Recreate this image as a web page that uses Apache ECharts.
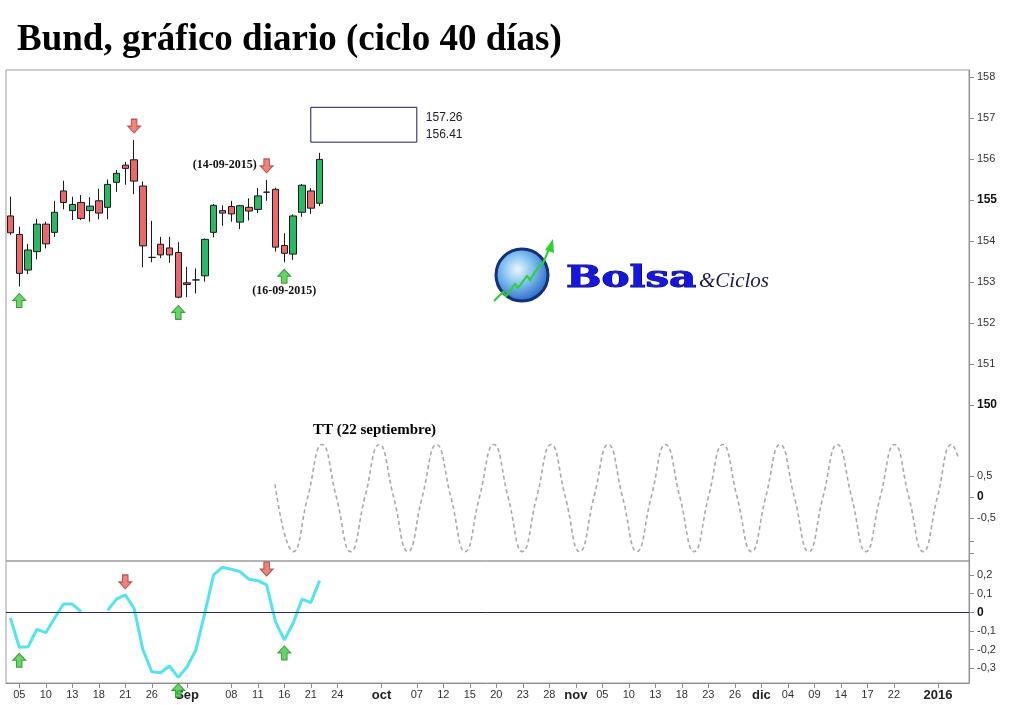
<!DOCTYPE html>
<html>
<head>
<meta charset="utf-8">
<script src="https://cdn.jsdelivr.net/npm/echarts@6.0.0/dist/echarts.min.js"></script>
<style>
html,body{margin:0;padding:0;background:#fff;}
#c{width:1024px;height:705px;}
</style>
</head>
<body>
<div id="c"></div>
<script>
// ---- categories: trading days (Eurex) ----
const dates = [
 '2015-08-04','2015-08-05','2015-08-06','2015-08-07',
 '2015-08-10','2015-08-11','2015-08-12','2015-08-13','2015-08-14',
 '2015-08-17','2015-08-18','2015-08-19','2015-08-20','2015-08-21',
 '2015-08-24','2015-08-25','2015-08-26','2015-08-27','2015-08-28',
 '2015-08-31','2015-09-01','2015-09-02','2015-09-03','2015-09-04',
 '2015-09-07','2015-09-08','2015-09-09','2015-09-10','2015-09-11',
 '2015-09-14','2015-09-15','2015-09-16','2015-09-17','2015-09-18',
 '2015-09-21','2015-09-22','2015-09-23','2015-09-24','2015-09-25',
 '2015-09-28','2015-09-29','2015-09-30','2015-10-01','2015-10-02',
 '2015-10-05','2015-10-06','2015-10-07','2015-10-08','2015-10-09',
 '2015-10-12','2015-10-13','2015-10-14','2015-10-15','2015-10-16',
 '2015-10-19','2015-10-20','2015-10-21','2015-10-22','2015-10-23',
 '2015-10-26','2015-10-27','2015-10-28','2015-10-29','2015-10-30',
 '2015-11-02','2015-11-03','2015-11-04','2015-11-05','2015-11-06',
 '2015-11-09','2015-11-10','2015-11-11','2015-11-12','2015-11-13',
 '2015-11-16','2015-11-17','2015-11-18','2015-11-19','2015-11-20',
 '2015-11-23','2015-11-24','2015-11-25','2015-11-26','2015-11-27',
 '2015-11-30','2015-12-01','2015-12-02','2015-12-03','2015-12-04',
 '2015-12-07','2015-12-08','2015-12-09','2015-12-10','2015-12-11',
 '2015-12-14','2015-12-15','2015-12-16','2015-12-17','2015-12-18',
 '2015-12-21','2015-12-22','2015-12-23','2015-12-28','2015-12-29',
 '2015-12-30','2016-01-04','2016-01-05','2016-01-06','2016-01-07'
];

// ---- x tick labels ----
const xTickLabels = [
 ['2015-08-05','05'],['2015-08-10','10'],['2015-08-13','13'],['2015-08-18','18'],
 ['2015-08-21','21'],['2015-08-26','26'],['2015-09-01','Sep'],['2015-09-08','08'],
 ['2015-09-11','11'],['2015-09-16','16'],['2015-09-21','21'],['2015-09-24','24'],
 ['2015-10-01','oct'],['2015-10-07','07'],['2015-10-12','12'],['2015-10-15','15'],
 ['2015-10-20','20'],['2015-10-23','23'],['2015-10-28','28'],['2015-11-02','nov'],
 ['2015-11-05','05'],['2015-11-10','10'],['2015-11-13','13'],['2015-11-18','18'],
 ['2015-11-23','23'],['2015-11-26','26'],['2015-12-01','dic'],['2015-12-04','04'],
 ['2015-12-09','09'],['2015-12-14','14'],['2015-12-17','17'],['2015-12-22','22'],
 ['2016-01-04','2016']
];
const boldTickLabels = ['Sep','oct','nov','dic','2016'];

// ---- price candles (Bund daily) ----
const opens  = [154.61,154.16,153.29,153.74,154.41,154.21,155.22,154.74,154.94,154.74,
                154.98,154.82,155.43,155.85,155.98,155.34,153.60,153.92,153.83,153.72,
                152.98,153.05,153.15,154.21,154.74,154.84,154.46,154.82,154.77,155.19,
                155.26,153.89,153.68,154.70,155.22,154.92];
const closes = [154.20,153.21,153.78,154.41,153.93,154.70,154.94,154.89,154.55,154.85,
                154.68,155.38,155.65,155.77,155.46,153.88,153.60,153.66,153.66,152.63,
                152.94,153.05,154.04,154.87,154.68,154.66,154.86,154.73,155.10,155.19,
                153.85,153.70,154.61,155.36,154.80,155.99];
const lows   = [154.15,152.89,153.19,153.55,153.82,154.10,154.77,154.51,154.51,154.47,
                154.53,154.53,155.20,155.37,155.14,153.36,153.48,153.58,153.47,152.60,
                152.63,152.72,153.01,154.09,154.37,154.47,154.29,154.50,154.68,154.98,
                153.74,153.48,153.54,154.59,154.66,154.85];
const highs  = [155.08,154.35,153.93,154.54,154.47,154.98,155.47,155.08,155.12,155.07,
                155.27,155.50,155.73,155.93,156.46,155.45,154.49,154.10,154.10,153.97,
                153.37,153.33,154.06,154.90,154.87,154.98,154.88,155.04,155.29,155.49,
                155.30,154.19,154.65,155.39,155.29,156.15];

// arrows on price chart (indices into dates)
const priceTopArrows = [14, 29];
const priceBottomArrows = [1, 19, 31];

// target box
const boxHigh = 157.26;
const boxLow = 156.41;
const boxFromIdx = 34;
const boxToIdx = 46;

// date notes
const dateNotes = [
 {idx: 29, text: '(14-09-2015)'},
 {idx: 31, text: '(16-09-2015)'}
];

// ---- TT cycle wave (x in trading-day index, y amplitude) ----
const ttWave = [
 [29.95,0.3],[32.03,-1.3],[33.65,0],[35.27,1.25],[36.89,0],[38.51,-1.3],[40.13,0],
 [41.75,1.25],[43.37,0],[44.99,-1.3],[46.61,0],[48.23,1.25],[49.85,0],[51.47,-1.3],
 [53.09,0],[54.71,1.25],[56.33,0],[57.95,-1.3],[59.57,0],[61.19,1.25],[62.81,0],
 [64.43,-1.3],[66.05,0],[67.67,1.25],[69.29,0],[70.91,-1.3],[72.53,0],[74.15,1.25],
 [75.77,0],[77.39,-1.3],[79.01,0],[80.63,1.25],[82.25,0],[83.87,-1.3],[85.49,0],
 [87.11,1.25],[88.73,0],[90.35,-1.3],[91.97,0],[93.59,1.25],[95.21,0],[96.83,-1.3],
 [98.45,0],[100.07,1.25],[101.69,0],[103.31,-1.3],[104.93,0],[106.55,1.25],[107.35,0.9]
];

// ---- oscillator ----
const oscValues = [-0.03,-0.187,-0.184,-0.091,-0.109,-0.032,0.044,0.044,0.003,null,
                   null,0.01,0.07,0.093,0.021,-0.20,-0.318,-0.323,-0.287,-0.348,
                   -0.291,-0.20,-0.005,0.20,0.241,0.23,0.217,0.176,0.169,0.146,
                   -0.05,-0.148,-0.059,0.07,0.051,0.169];
const oscTopArrows = [13, 29];
const oscBottomArrows = [1, 19, 31];

// axis tick values
const priceTicks = [150,151,152,153,154,155,156,157,158];
const waveTicks = [-0.5,0,0.5];
const waveExtraTicks = [-1.05,-1.33];
const oscTicks = [-0.3,-0.2,-0.1,0,0.1,0.2];

// ---------------------------------------------------------
const tickMap = {};
xTickLabels.forEach(p => { tickMap[p[0]] = p[1]; });
const candleData = opens.map((o, i) => [o, closes[i], lows[i], highs[i]]);

const DOWN = 'path://M4,0 L10,0 L10,7 L14,7 L7,14 L0,7 L4,7 Z';
const UP = 'path://M7,0 L14,7 L10,7 L10,14 L4,14 L4,7 L0,7 Z';
const redArrow = {color: '#e6675c', borderColor: '#a8372e', borderWidth: 1};
const greenArrow = {color: '#3fcc3f', borderColor: '#1f8a1f', borderWidth: 1};

const commaFmt = v => {
  if (Math.abs(v) < 1e-9) return '{b|0}';
  return String(Math.round(v * 100) / 100).replace('.', ',');
};
const axisFont = {fontFamily: '"Liberation Sans", Arial, sans-serif', fontSize: 11, color: '#333'};
const axisLineColor = '#8e8e8e';

const chart = echarts.init(document.getElementById('c'), null, {renderer: 'canvas'});

const option = {
  backgroundColor: '#ffffff',
  animation: false,
  title: {
    text: 'Bund, gráfico diario (ciclo 40 días)',
    left: 12, top: 17,
    textStyle: {fontFamily: '"Liberation Serif", "Times New Roman", serif', fontWeight: 'bold', fontSize: 37, color: '#000'}
  },
  grid: [
    {left: 6, right: 55, top: 70, height: 491, show: true, borderColor: '#9c9c9c', borderWidth: 1, backgroundColor: 'transparent', outerBoundsMode: 'none'},
    {left: 6, right: 55, top: 561, height: 122, show: true, borderColor: '#9c9c9c', borderWidth: 1, backgroundColor: 'transparent', outerBoundsMode: 'none'}
  ],
  xAxis: [
    {type: 'category', gridIndex: 0, data: dates, boundaryGap: true, show: false},
    {type: 'category', gridIndex: 1, data: dates, boundaryGap: true, position: 'bottom',
     axisLine: {show: true, onZero: false, lineStyle: {color: axisLineColor}},
     axisTick: {show: true, alignWithLabel: true, length: 5, lineStyle: {color: axisLineColor},
                interval: (i, v) => tickMap[v] !== undefined},
     axisLabel: {show: true, margin: 6,
                 interval: (i, v) => tickMap[v] !== undefined,
                 formatter: v => {
                   const t = tickMap[v];
                   if (t === undefined) return '';
                   return boldTickLabels.indexOf(t) >= 0 ? '{m|' + t + '}' : '{n|' + t + '}';
                 },
                 rich: {
                   n: {fontFamily: '"Liberation Sans Narrow", "Liberation Sans", Arial, sans-serif', fontSize: 11, color: '#333'},
                   m: {fontFamily: '"Liberation Sans Narrow", "Liberation Sans", Arial, sans-serif', fontSize: 13, fontWeight: 'bold', color: '#222'}
                 }},
     splitLine: {show: false}},
    {type: 'value', gridIndex: 0, min: -0.5, max: 108.5, show: false, axisLine: {onZero: false}}
  ],
  yAxis: [
    {type: 'value', gridIndex: 0, position: 'right', min: 146.195, max: 158.17,
     axisLine: {show: true, onZero: false, lineStyle: {color: axisLineColor}},
     axisTick: {show: true, length: 5, customValues: priceTicks, lineStyle: {color: axisLineColor}},
     axisLabel: Object.assign({show: true, margin: 8, customValues: priceTicks,
                 formatter: v => (v === 155 || v === 150) ? '{b|' + v + '}' : String(v),
                 rich: {b: {fontFamily: '"Liberation Sans", Arial, sans-serif', fontSize: 12, fontWeight: 'bold', color: '#111'}}}, axisFont),
     splitLine: {show: false}},
    {type: 'value', gridIndex: 0, position: 'right', min: -1.524, max: 10.17,
     axisLine: {show: false, onZero: false},
     axisTick: {show: true, length: 5, customValues: waveTicks.concat(waveExtraTicks), lineStyle: {color: axisLineColor}},
     axisLabel: Object.assign({show: true, margin: 8, customValues: waveTicks, formatter: commaFmt,
                 rich: {b: {fontFamily: '"Liberation Sans", Arial, sans-serif', fontSize: 12, fontWeight: 'bold', color: '#111'}}}, axisFont),
     splitLine: {show: false}},
    {type: 'value', gridIndex: 1, position: 'right', min: -0.378, max: 0.274,
     axisLine: {show: true, onZero: false, lineStyle: {color: axisLineColor}},
     axisTick: {show: true, length: 5, customValues: oscTicks, lineStyle: {color: axisLineColor}},
     axisLabel: Object.assign({show: true, margin: 8, customValues: oscTicks, formatter: commaFmt,
                 rich: {b: {fontFamily: '"Liberation Sans", Arial, sans-serif', fontSize: 12, fontWeight: 'bold', color: '#111'}}}, axisFont),
     splitLine: {show: false}}
  ],
  series: [
    {
      type: 'candlestick', name: 'Bund', xAxisIndex: 0, yAxisIndex: 0,
      data: candleData, barWidth: 7,
      itemStyle: {color: '#2bb865', color0: '#e8696b', borderColor: '#1a1a1a', borderColor0: '#1a1a1a', borderWidth: 1},
      markArea: {
        silent: true,
        itemStyle: {color: 'rgba(255,255,255,0)', borderColor: '#1b1b5c', borderWidth: 1},
        data: [[{coord: [dates[boxFromIdx], boxHigh]}, {coord: [dates[boxToIdx], boxLow]}]]
      },
      markPoint: {
        silent: true, symbol: 'circle', symbolSize: 0, animation: false,
        data: [
          {coord: [dates[boxToIdx], boxHigh], value: boxHigh,
           label: {show: true, position: 'right', distance: 9, offset: [0, 10], formatter: boxHigh.toFixed(2),
                   fontFamily: '"Liberation Sans", Arial, sans-serif', fontSize: 12, color: '#222'}},
          {coord: [dates[boxToIdx], boxLow], value: boxLow,
           label: {show: true, position: 'right', distance: 9, offset: [0, -7], formatter: boxLow.toFixed(2),
                   fontFamily: '"Liberation Sans", Arial, sans-serif', fontSize: 12, color: '#222'}},
          {coord: [dates[dateNotes[0].idx], highs[dateNotes[0].idx]], value: 0,
           label: {show: true, position: 'left', distance: 10, offset: [0, -15], formatter: dateNotes[0].text,
                   fontFamily: '"Liberation Serif", serif', fontWeight: 'bold', fontSize: 12, color: '#111'}},
          {coord: [dates[dateNotes[1].idx], lows[dateNotes[1].idx]], value: 0,
           label: {show: true, position: 'bottom', distance: 23, offset: [0, 0], formatter: dateNotes[1].text,
                   fontFamily: '"Liberation Serif", serif', fontWeight: 'bold', fontSize: 12, color: '#111'}}
        ]
      }
    },
    {
      type: 'scatter', xAxisIndex: 0, yAxisIndex: 0, z: 5, clip: false,
      symbol: DOWN, symbolSize: [13, 14], symbolOffset: [0, -14],
      itemStyle: redArrow,
      data: priceTopArrows.map(i => [i, highs[i]])
    },
    {
      type: 'scatter', xAxisIndex: 0, yAxisIndex: 0, z: 5, clip: false,
      symbol: UP, symbolSize: [13, 14], symbolOffset: [0, 14],
      itemStyle: greenArrow,
      data: priceBottomArrows.map(i => [i, lows[i]])
    },
    {
      type: 'line', name: 'TT', xAxisIndex: 2, yAxisIndex: 1,
      data: ttWave, smooth: true, showSymbol: false, silent: true,
      lineStyle: {color: '#a9a9a9', width: 1.6, type: [4, 3]}
    },
    {
      type: 'line', name: 'osc', xAxisIndex: 1, yAxisIndex: 2,
      data: oscValues, showSymbol: false, connectNulls: false, silent: true,
      lineStyle: {color: '#54e4f0', width: 3},
      markLine: {
        silent: true, symbol: ['none', 'none'], label: {show: false},
        lineStyle: {color: '#262c5e', width: 1, type: 'solid'},
        data: [{yAxis: 0}]
      }
    },
    {
      type: 'scatter', xAxisIndex: 1, yAxisIndex: 2, z: 5, clip: false,
      symbol: DOWN, symbolSize: [13, 14],
      itemStyle: redArrow,
      data: oscTopArrows.map((i, k) => ({value: [i, oscValues[i]], symbolOffset: [0, k === 0 ? -13 : -16]}))
    },
    {
      type: 'scatter', xAxisIndex: 1, yAxisIndex: 2, z: 5, clip: false,
      symbol: UP, symbolSize: [13, 14],
      itemStyle: greenArrow,
      data: oscBottomArrows.map(i => ({value: [i, oscValues[i]], symbolOffset: [0, 13]}))
    }
  ],
  graphic: [
    {type: 'text', x: 313, y: 423, z: 10,
     style: {text: 'TT (22 septiembre)', font: 'bold 15px "Liberation Serif", serif', fill: '#000'}},
    {type: 'circle', z: 10, shape: {cx: 522, cy: 275, r: 26},
     style: {fill: {type: 'radial', x: 0.42, y: 0.4, r: 0.65,
                    colorStops: [{offset: 0, color: '#eaf7ff'}, {offset: 0.45, color: '#7dbdf0'}, {offset: 1, color: '#1d5cc0'}]},
             stroke: '#13307a', lineWidth: 3}},
    {type: 'polyline', z: 11,
     shape: {points: [[494,301],[503,292],[506,296],[515,284],[518,288],[527,276],[530,280],[539,266],[543,263],[550,247]]},
     style: {stroke: '#2fd02f', lineWidth: 2, fill: null}},
    {type: 'polygon', z: 11, shape: {points: [[545,250],[553,239],[554,253]]}, style: {fill: '#2fd02f'}},
    {type: 'text', x: 566, y: 279, scaleX: 1.4, z: 10,
     style: {text: 'Bolsa', font: 'bold 30px "DejaVu Serif", serif', fill: '#1616e0', stroke: '#06065a', lineWidth: 1, verticalAlign: 'middle'}},
    {type: 'text', x: 699, y: 281, z: 10,
     style: {text: '&Ciclos', font: 'italic 21px "Liberation Serif", serif', fill: '#1a1a50', verticalAlign: 'middle'}}
  ]
};
chart.setOption(option);
</script>
</body>
</html>
